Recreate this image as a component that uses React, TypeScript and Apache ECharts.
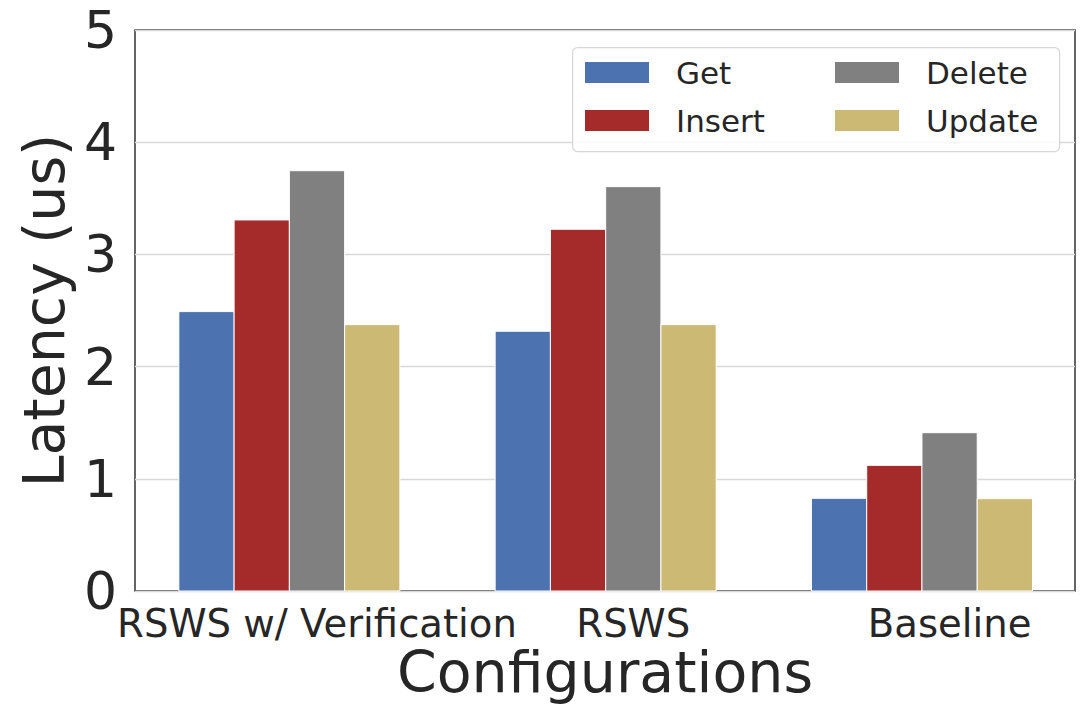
import React, { useEffect, useRef } from "react";
import * as echarts from "echarts";

const categories = ["RSWS w/ Verification", "RSWS", "Baseline"];
const seriesNames = ["Get", "Insert", "Delete", "Update"];
const getValues = [2.49, 2.315, 0.826];
const insertValues = [3.307, 3.224, 1.12];
const deleteValues = [3.746, 3.604, 1.411];
const updateValues = [2.374, 2.374, 0.823];
const seriesValues = [getValues, insertValues, deleteValues, updateValues];
const barOffsets = [-2, -1, 0, 1];
const colors = ["#4C72B0", "#A52A2A", "#808080", "#CCB974"];
const yTicks = [0, 1, 2, 3, 4, 5];

const BAR_W = 0.1747;
const FONT = "'DejaVu Sans', sans-serif";
const TEXT = "#262626";

export default function App() {
  const ref = useRef<HTMLDivElement>(null);
  useEffect(() => {
    if (!ref.current) return;
    const chart = echarts.init(ref.current, null, { renderer: "svg" });
    const series = seriesNames.map((name, si) => ({
      type: "custom",
      name,
      itemStyle: { color: colors[si] },
      encode: { x: 0, y: 1 },
      data: seriesValues[si].map((v, i) => [i, v]),
      renderItem: (params: any, api: any) => {
        const idx = api.value(0);
        const val = api.value(1);
        const c = idx + barOffsets[si] * BAR_W;
        const p0 = api.coord([c - BAR_W / 2, val]);
        const p1 = api.coord([c + BAR_W / 2, 0]);
        return {
          type: "rect",
          shape: { x: p0[0], y: p0[1], width: p1[0] - p0[0], height: p1[1] - p0[1] },
          style: { fill: colors[si], stroke: "#ffffff", lineWidth: 1 },
        };
      },
    }));
    const legendCommon = {
      orient: "vertical",
      icon: "rect",
      itemWidth: 64,
      itemHeight: 21,
      itemGap: 17,
      padding: 0,
      selectedMode: false,
      itemStyle: { borderWidth: 0 },
      textStyle: {
        fontSize: 31,
        lineHeight: 31,
        color: TEXT,
        fontFamily: FONT,
        padding: [0, 0, 0, 22],
      },
    };
    chart.setOption({
      animation: false,
      backgroundColor: "#ffffff",
      textStyle: { fontFamily: FONT },
      grid: {
        left: 135,
        top: 30,
        width: 940,
        height: 561,
        show: true,
        borderColor: "#333333",
        borderWidth: 1.5,
        backgroundColor: "transparent",
        containLabel: false,
        outerBoundsMode: "none",
      },
      xAxis: {
        type: "value",
        min: -0.5754,
        max: 2.3965,
        splitLine: { show: false },
        axisLine: { show: false },
        axisTick: { show: false },
        name: "Configurations",
        nameLocation: "middle",
        nameGap: 56.5,
        nameMoveOverlap: false,
        nameTextStyle: { fontSize: 57, lineHeight: 48, color: TEXT, fontFamily: FONT },
        axisLabel: {
          customValues: [0, 1, 2],
          formatter: (v: number) => categories[Math.round(v)],
          fontSize: 38.6,
          lineHeight: 34,
          color: TEXT,
          fontFamily: FONT,
          margin: 15.3,
        },
      },
      yAxis: {
        type: "value",
        min: yTicks[0],
        max: yTicks[yTicks.length - 1],
        interval: 1,
        axisLine: { show: false },
        axisTick: { show: false },
        splitLine: { show: true, lineStyle: { color: "#d9d9d9", width: 1.3 } },
        name: "Latency (us)",
        nameLocation: "middle",
        nameGap: 63,
        nameMoveOverlap: false,
        nameTextStyle: { fontSize: 57, lineHeight: 57, color: TEXT, fontFamily: FONT },
        axisLabel: { fontSize: 52, color: TEXT, fontFamily: FONT, margin: 18 },
      },
      legend: [
        { ...legendCommon, data: ["Get", "Insert"], left: 585, top: 57 },
        { ...legendCommon, data: ["Delete", "Update"], left: 835, top: 57 },
      ],
      graphic: [
        {
          type: "rect",
          left: 572,
          top: 47,
          z: 3,
          shape: { width: 487, height: 104, r: 5 },
          style: { fill: "rgba(255,255,255,0.8)", stroke: "#d6d6d6", lineWidth: 1.2 },
        },
      ],
      series,
    });
    return () => chart.dispose();
  }, []);
  return (
    <div
      ref={ref}
      style={{ position: "absolute", left: 0, top: 0, width: 1081, height: 704 }}
    />
  );
}
